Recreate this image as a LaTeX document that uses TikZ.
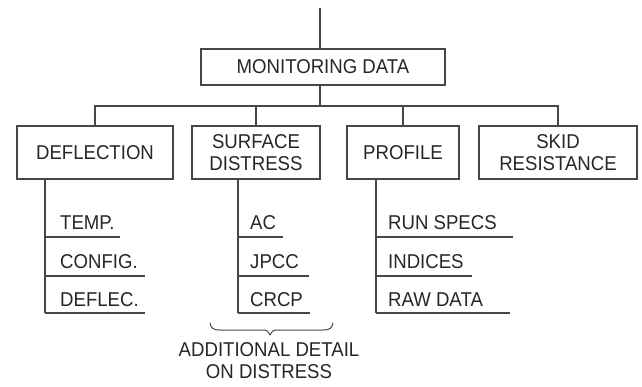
\documentclass[tikz,border=0pt]{standalone}
\usepackage{fontspec}
\setmainfont{Liberation Sans}[FakeStretch=0.93]
\begin{document}
\begin{tikzpicture}[x=1pt,y=-1pt,
  lbl/.style={font=\fontsize{20}{22}\selectfont, text=black!85},
  box/.style={lbl, draw=black!72, line width=1.1pt, rectangle, inner sep=0pt, align=center},
  item/.style={lbl, anchor=base west, inner sep=0pt},
  link/.style={draw=black!72, line width=1.1pt}]
\useasboundingbox (0,0) rectangle (642,387);
\fill[white] (0,0) rectangle (642,387);

% main box
\node[box, minimum width=244pt, minimum height=36pt] (mon) at (323,67) {MONITORING DATA};
\coordinate (top) at (320,8);
\coordinate (bus) at (320,106);
\draw[link] (top) -- (top |- mon.north);
\draw[link] (mon.south -| top) -- (bus);

% level-2 boxes
\node[box, minimum width=156pt, minimum height=53pt] (defl) at (95,152.5) {DEFLECTION};
\node[box, minimum width=128pt, minimum height=53pt] (surf) at (256,152.5) {SURFACE\\DISTRESS};
\node[box, minimum width=112pt, minimum height=53pt] (prof) at (403,152.5) {PROFILE};
\node[box, minimum width=158pt, minimum height=53pt] (skid) at (558,152.5) {SKID\\RESISTANCE};

\draw[link] (defl.north) -- (defl.north |- bus) -- (skid.north |- bus) -- (skid.north);
\draw[link] (surf.north |- bus) -- (surf.north);
\draw[link] (prof.north |- bus) -- (prof.north);

% deflection subtree
\coordinate (dv) at (45,313);
\draw[link] (defl.south -| dv) -- (dv);
\node[item] (temp) at (60,230) {TEMP.};
\node[item] (config) at (60,269) {CONFIG.};
\node[item] (deflec) at (60,306) {DEFLEC.};
\coordinate (d1) at (120,237);
\coordinate (d2) at (145,276);
\coordinate (d3) at (145,313);
\draw[link] (dv |- d1) -- (d1);
\draw[link] (dv |- d2) -- (d2);
\draw[link] (dv) -- (d3);

% surface distress subtree
\coordinate (sv) at (238,313);
\draw[link] (surf.south -| sv) -- (sv);
\node[item] (ac) at (250,230) {AC};
\node[item] (jpcc) at (250,269) {JPCC};
\node[item] (crcp) at (250,306) {CRCP};
\coordinate (s1) at (283,237);
\coordinate (s2) at (309,276);
\coordinate (s3) at (310,313);
\draw[link] (sv |- s1) -- (s1);
\draw[link] (sv |- s2) -- (s2);
\draw[link] (sv) -- (s3);

% profile subtree
\coordinate (pv) at (376,313);
\draw[link] (prof.south -| pv) -- (pv);
\node[item] (run) at (388,230) {RUN SPECS};
\node[item] (ind) at (388,269) {INDICES};
\node[item] (raw) at (388,306) {RAW DATA};
\coordinate (p1) at (513,237);
\coordinate (p2) at (472,276);
\coordinate (p3) at (510,313);
\draw[link] (pv |- p1) -- (p1);
\draw[link] (pv |- p2) -- (p2);
\draw[link] (pv) -- (p3);

% brace
\coordinate (bl) at (210,323);
\coordinate (bt) at (270,335);
\coordinate (br) at (333,323);
\draw[link, line width=1pt, line join=round]
  (bl) .. controls (211,328) and (213,330) .. (220,330)
  -- (263,330) .. controls (267,330) and (269,332) .. (bt)
  .. controls (271,332) and (273,330) .. (277,330)
  -- (323,330) .. controls (330,330) and (332,328) .. (br);
\node[lbl, align=center, inner sep=0pt] (note) at (269,361) {ADDITIONAL DETAIL\\ON DISTRESS};
\end{tikzpicture}
\end{document}
